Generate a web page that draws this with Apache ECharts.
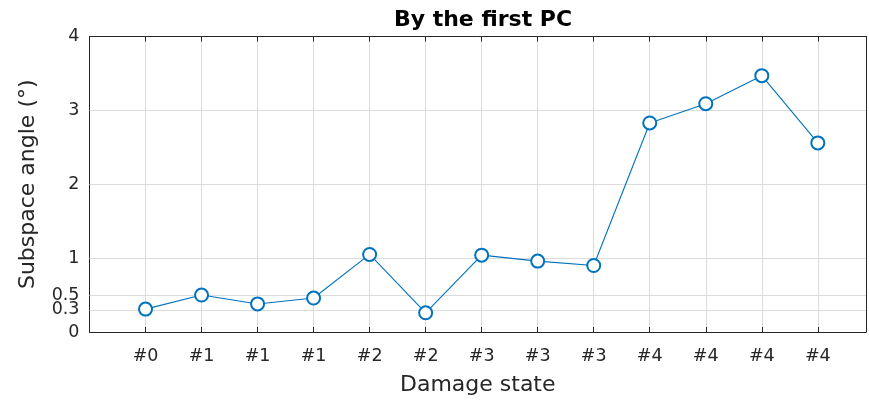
<!DOCTYPE html>
<html>
<head>
<meta charset="utf-8">
<script src="https://cdn.jsdelivr.net/npm/echarts@6/dist/echarts.min.js"></script>
<style>
  html, body { margin: 0; padding: 0; background: #fff; }
  #chart { width: 869px; height: 403px; }
</style>
</head>
<body>
<div id="chart"></div>
<script>
// Damage state of each test case and its subspace angle (degrees)
const damageStates = ['#0', '#1', '#1', '#1', '#2', '#2', '#3', '#3', '#3', '#4', '#4', '#4', '#4'];
const subspaceAngles = [0.31, 0.5, 0.38, 0.46, 1.05, 0.26, 1.04, 0.96, 0.9, 2.83, 3.09, 3.47, 2.56];
const yTickValues = [0, 0.3, 0.5, 1, 2, 3, 4];
const yGridValues = [0.3, 0.5, 1, 2, 3];

const caseIndex = damageStates.map((_, i) => i + 1);
const axisColor = '#262626';
const gridColor = '#dcdcdc';
const font = '"DejaVu Sans", Verdana, sans-serif';

const chart = echarts.init(document.getElementById('chart'), null, { renderer: 'canvas' });

const xBase = {
  type: 'value',
  min: 0,
  max: 13.86,
  interval: 1,
  axisLine: { show: true, onZero: false, lineStyle: { color: axisColor, width: 1 } },
  axisTick: { show: true, inside: true, length: 5, customValues: caseIndex, lineStyle: { color: axisColor } }
};
const yBase = {
  type: 'value',
  min: 0,
  max: 4,
  axisLine: { show: true, onZero: false, lineStyle: { color: axisColor, width: 1 } },
  axisTick: { show: true, inside: true, length: 5, customValues: yTickValues, lineStyle: { color: axisColor } }
};

chart.setOption({
  animation: false,
  backgroundColor: '#ffffff',
  title: {
    text: 'By the first PC',
    left: 478,
    top: 4,
    textAlign: 'center',
    textStyle: { fontFamily: font, fontSize: 22, fontWeight: 'bold', color: '#000000' }
  },
  grid: { left: 89.5, right: 3, top: 36.5, bottom: 71, containLabel: false },
  xAxis: [
    Object.assign({}, xBase, {
      position: 'bottom',
      name: 'Damage state',
      nameLocation: 'middle',
      nameGap: 42,
      nameTextStyle: { fontFamily: font, fontSize: 22, color: axisColor },
      axisLabel: {
        show: true,
        customValues: caseIndex,
        margin: 15,
        fontFamily: font,
        fontSize: 17.5,
        color: axisColor,
        formatter: v => damageStates[Math.round(v) - 1] || ''
      },
      splitLine: { show: true, lineStyle: { color: gridColor, width: 1 } }
    }),
    Object.assign({}, xBase, {
      position: 'top',
      axisLabel: { show: false },
      splitLine: { show: false }
    })
  ],
  yAxis: [
    Object.assign({}, yBase, {
      position: 'left',
      name: 'Subspace angle (°)',
      nameLocation: 'middle',
      nameGap: 50,
      nameTextStyle: { fontFamily: font, fontSize: 22, color: axisColor },
      axisLabel: {
        show: true,
        customValues: yTickValues,
        margin: 10,
        fontFamily: font,
        fontSize: 17.5,
        color: axisColor,
        formatter: v => String(v)
      },
      splitLine: { show: false }
    }),
    Object.assign({}, yBase, {
      position: 'right',
      axisLabel: { show: false },
      splitLine: { show: false }
    })
  ],
  series: [{
    type: 'line',
    xAxisIndex: 0,
    yAxisIndex: 0,
    data: caseIndex.map((x, i) => [x, subspaceAngles[i]]),
    symbol: 'emptyCircle',
    symbolSize: 13,
    lineStyle: { color: '#0072BD', width: 1.1 },
    itemStyle: { color: '#0072BD', borderColor: '#0072BD', borderWidth: 1.1 },
    z: 5,
    markLine: {
      silent: true,
      symbol: ['none', 'none'],
      label: { show: false },
      lineStyle: { color: gridColor, type: 'solid', width: 1 },
      z: 1,
      data: yGridValues.map(v => ({ yAxis: v }))
    }
  }]
});
</script>
</body>
</html>
